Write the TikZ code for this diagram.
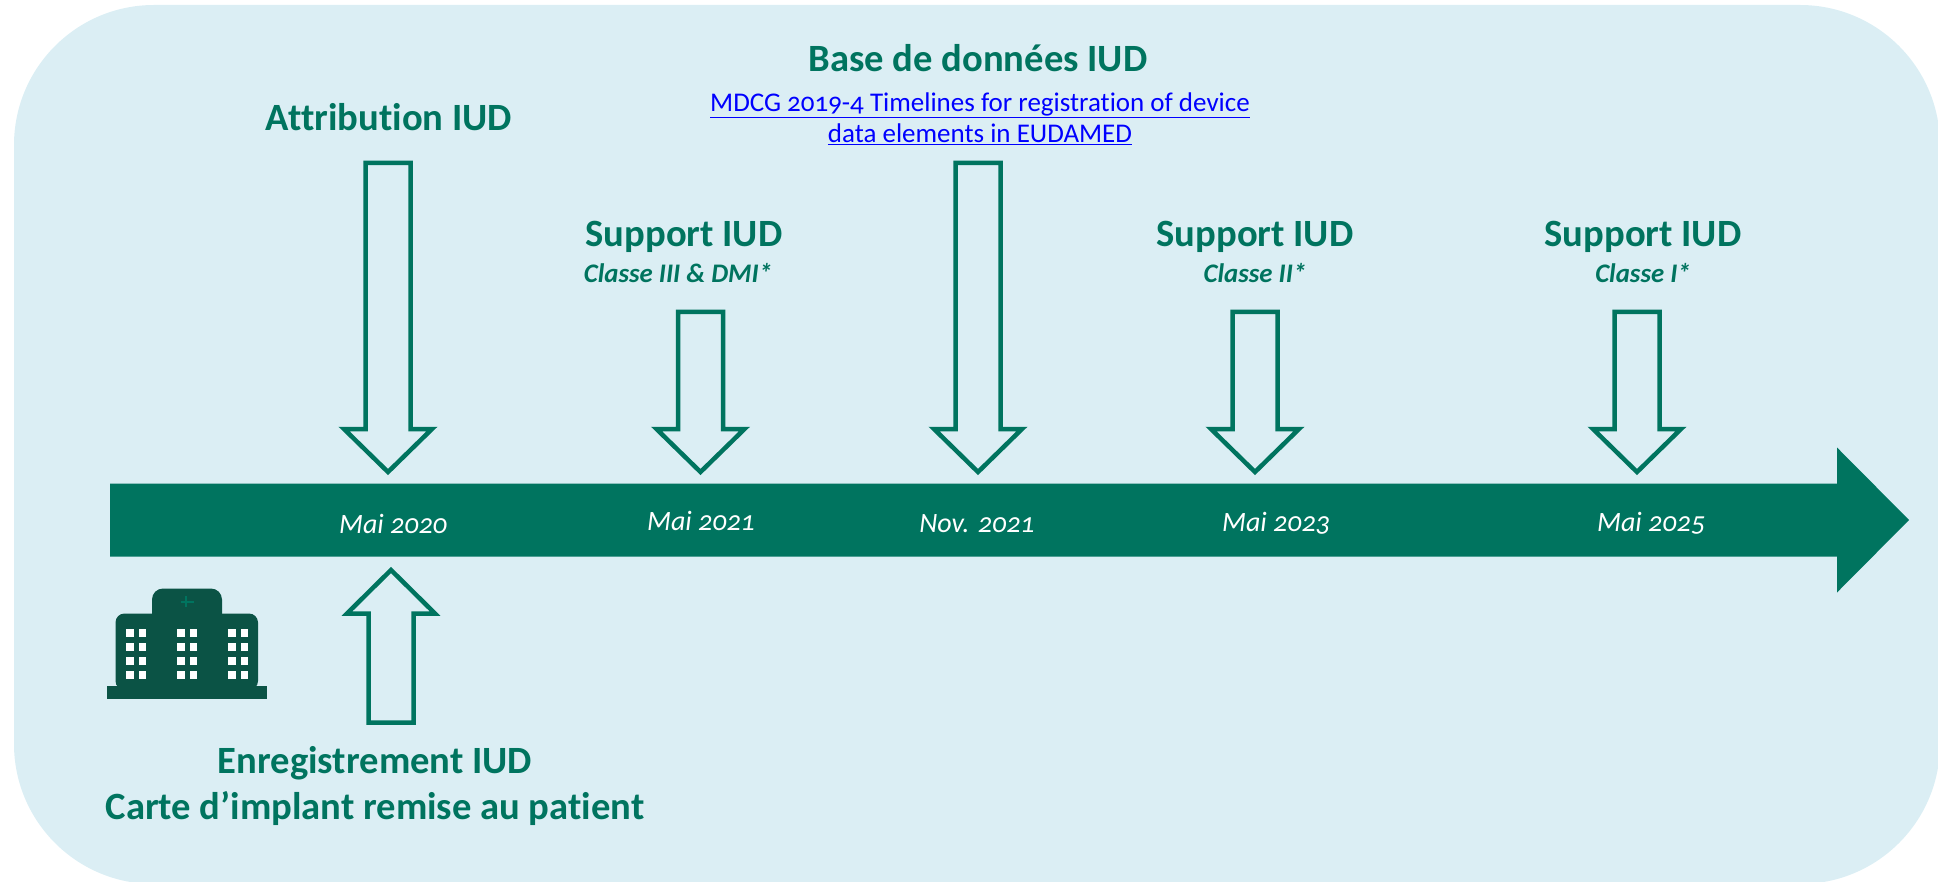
\documentclass[tikz,border=0pt]{standalone}
\usepackage{fontspec}
\setmainfont{Carlito}[Numbers=OldStyle,RawFeature={-liga}]
\definecolor{panelblue}{HTML}{DBEEF4}
\definecolor{tealgreen}{HTML}{00745F}
\definecolor{darkteal}{HTML}{0B5345}
\tikzset{
  heading/.style={text=tealgreen,font=\fontsize{38.6}{46}\selectfont\bfseries,inner sep=0pt,align=center},
  subhead/.style={text=tealgreen,font=\fontsize{26.8}{32}\selectfont\bfseries\itshape,inner sep=0pt},
  datelabel/.style={text=white,font=\fontsize{28}{34}\selectfont\itshape,inner sep=0pt},
  linktext/.style={text=blue,font=\fontsize{27}{32}\selectfont,inner sep=0pt,align=center},
  blockarrow/.style={draw=tealgreen,line width=4.5pt,miter limit=10},
  window/.style={fill=white}
}
% centre x, top y, head y, tip y
\newcommand{\downarrowshape}[4]{%
  \draw[blockarrow] (#1-22.5,#2) -- (#1+22.5,#2) -- (#1+22.5,#3) -- (#1+44,#3) -- (#1,#4)
    -- (#1-44,#3) -- (#1-22.5,#3) -- cycle;}
\begin{document}
\begin{tikzpicture}[x=1pt,y=-1pt]
\useasboundingbox (0,0) rectangle (1938,882);
\clip (0,0) rectangle (1938,882);
\fill[panelblue,rounded corners=140pt] (14,5) rectangle (1940,884);
% timeline
\fill[tealgreen] (110,483.5) -- (1837,483.5) -- (1837,447.5) -- (1909,520) -- (1837,592.5) -- (1837,556.5) -- (110,556.5) -- cycle;
% block arrows
\downarrowshape{388}{163}{429}{472}
\downarrowshape{700.5}{312}{429}{472}
\downarrowshape{978}{163}{429}{472}
\downarrowshape{1255}{312}{429}{472}
\downarrowshape{1637}{312}{429}{472}
\draw[blockarrow] (368.5,722.5) -- (413.5,722.5) -- (413.5,613.5) -- (435,613.5) -- (391,570) -- (347,613.5) -- (368.5,613.5) -- cycle;
% hospital
\fill[darkteal] (107,685.5) rectangle (267,698.5);
\fill[darkteal,rounded corners=9pt] (115.5,690) -- (115.5,613.5) -- (258,613.5) -- (258,690) -- cycle;
\fill[darkteal,rounded corners=11pt] (152,630) -- (152,588.5) -- (222,588.5) -- (222,630) -- cycle;
\fill[tealgreen] (185,596) rectangle (187,607);
\fill[tealgreen] (180.5,600.5) rectangle (194,603);
\foreach \c in {126,177,228}{
  \foreach \r in {628.5,642.5,656.5,670.5}{
    \fill[window] (\c,\r) rectangle +(7.7,8);
    \fill[window] (\c+12.7,\r) rectangle +(7.7,8);
  }
}
% labels
\node[heading] (attrib) at (389,117.5) {Attribution IUD};
\node[heading] (base) at (978,58) {Base de données IUD};
\node[linktext] (mdcg) at (980,118.5) {\underline{MDCG 2019-4 Timelines for registration of device}\\[-1pt]\underline{data elements in EUDAMED}};
\node[heading] (supa) at (684,236.5) {Support IUD};
\node[subhead] (supasub) at (678,273) {Classe III \& DMI*};
\node[heading] (supb) at (1255,236.5) {Support IUD};
\node[subhead] (supbsub) at (1255,273) {Classe II*};
\node[heading] (supc) at (1643,236.5) {Support IUD};
\node[subhead] (supcsub) at (1643,273) {Classe I*};
\node[heading] (enreg) at (375,786) {Enregistrement IUD\\Carte d’implant remise au patient};
\node[datelabel] (d1) at (393,524) {Mai 2020};
\node[datelabel] (d2) at (701,521) {Mai 2021};
\node[datelabel] (d3) at (977,524) {Nov. 2021};
\node[datelabel] (d4) at (1276,523) {Mai 2023};
\node[datelabel] (d5) at (1651,523) {Mai 2025};
\end{tikzpicture}
\end{document}
